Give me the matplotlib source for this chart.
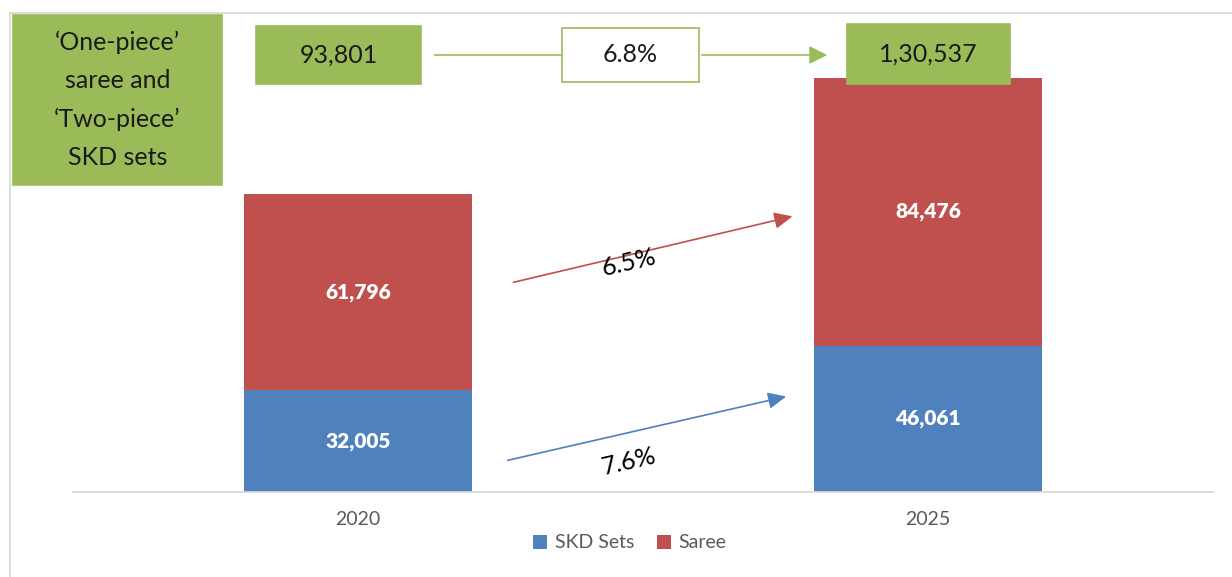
import matplotlib.pyplot as plt
from matplotlib.patches import Rectangle
from matplotlib.lines import Line2D

years = ['2020', '2025']
skd_sets = [32005, 46061]
saree = [61796, 84476]
totals = [93801, 130537]
total_cagr = '6.8%'
saree_cagr = '6.5%'
skd_cagr = '7.6%'

BLUE = '#4F81BD'
RED = '#C0504D'
GREEN = '#9BBB59'
GREY = '#595959'
FONT = 'Lato'

W, H = 1232, 577


def fx(px):
    return px / W


def fy(py):
    # pixel rows are counted from the top
    return 1 - py / H


def box(fig, x0, y0, x1, y1, face, edge, text, size=18, spacing=1.55):
    fig.add_artist(Rectangle((fx(x0), fy(y1)), fx(x1) - fx(x0), fy(y0) - fy(y1),
                             transform=fig.transFigure, facecolor=face,
                             edgecolor=edge, linewidth=1.2))
    fig.text(fx((x0 + x1) / 2), fy((y0 + y1) / 2), text, ha='center', va='center',
             fontsize=size, family=FONT, color='#1a1a1a', linespacing=spacing)


fig = plt.figure(figsize=(W / 100, H / 100), dpi=100)
ax = fig.add_axes([fx(73), fy(492), fx(1213) - fx(73), fy(13) - fy(492)])

x = list(range(len(years)))
ax.bar(x, skd_sets, width=0.4, color=BLUE, label='SKD Sets')
ax.bar(x, saree, width=0.4, bottom=skd_sets, color=RED, label='Saree')

for i in x:
    ax.text(i, skd_sets[i] / 2, f'{skd_sets[i]:,}', ha='center', va='center',
            color='white', fontsize=15, fontweight='heavy', family=FONT)
    ax.text(i, skd_sets[i] + saree[i] / 2, f'{saree[i]:,}', ha='center', va='center',
            color='white', fontsize=15, fontweight='heavy', family=FONT)

ax.set_xlim(-0.5, 1.5)
ax.set_ylim(0, 151000)
ax.set_xticks(x)
ax.set_xticklabels(years, fontsize=14, color=GREY, family=FONT)
ax.tick_params(axis='x', length=0, pad=14)
ax.set_yticks([])
for side in ['top', 'right', 'left']:
    ax.spines[side].set_visible(False)
ax.spines['bottom'].set_color('#D9D9D9')
ax.spines['bottom'].set_linewidth(1.3)

# growth arrows between the segments
ax.annotate('', xy=(0.767, 87100), xytext=(0.268, 65900),
            arrowprops=dict(arrowstyle='-|>,head_length=1.1,head_width=0.5',
                            color=RED, lw=1.2))
ax.annotate('', xy=(0.756, 30300), xytext=(0.258, 9800),
            arrowprops=dict(arrowstyle='-|>,head_length=1.1,head_width=0.5',
                            color=BLUE, lw=1.2))
ax.text(0.475, 72500, saree_cagr, rotation=13, ha='center', va='center',
        fontsize=18, family=FONT, color='black')
ax.text(0.475, 9500, skd_cagr, rotation=13, ha='center', va='center',
        fontsize=18, family=FONT, color='black')

# light frame at top and left
fig.add_artist(Line2D([fx(10), 1], [fy(13), fy(13)], transform=fig.transFigure,
                      color='#D9D9D9', lw=1.3))
fig.add_artist(Line2D([fx(10), fx(10)], [fy(13), 0], transform=fig.transFigure,
                      color='#D9D9D9', lw=1.3))

# header boxes
box(fig, 13, 15, 222, 185, GREEN, GREEN,
    '\u2018One-piece\u2019\nsaree and\n\u2018Two-piece\u2019\nSKD sets', spacing=1.8)
box(fig, 256, 26, 421, 84, GREEN, GREEN, f'{totals[0]:,}')
box(fig, 562, 28, 699, 82, 'white', GREEN, total_cagr)
box(fig, 847, 24, 1010, 84, GREEN, GREEN, '1,30,537')

fig.add_artist(Line2D([fx(435), fx(562)], [fy(55), fy(55)], transform=fig.transFigure,
                      color=GREEN, lw=1.2))
ax.annotate('', xy=(fx(830), fy(55)), xytext=(fx(699), fy(55)),
            xycoords='figure fraction', textcoords='figure fraction',
            arrowprops=dict(arrowstyle='-|>,head_length=1.1,head_width=0.55',
                            color=GREEN, lw=1.2))

leg = fig.legend(loc='center', bbox_to_anchor=(fx(630), fy(543)), ncol=2, frameon=False,
                 handlelength=0.7, handleheight=0.7, handletextpad=0.4, columnspacing=1.2,
                 prop={'family': FONT, 'size': 14})
for t in leg.get_texts():
    t.set_color(GREY)

fig.savefig('out.png', dpi=100, facecolor='white')
